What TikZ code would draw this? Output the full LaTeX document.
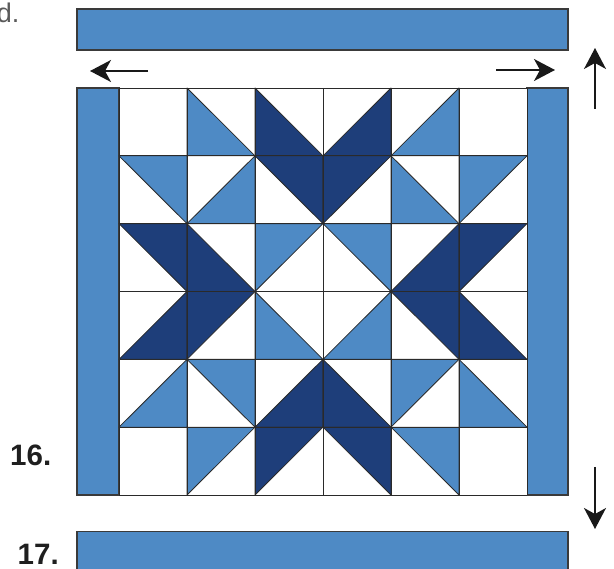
\documentclass[tikz,border=0pt]{standalone}
\usepackage{fontspec}
\setmainfont{Liberation Sans}
\usetikzlibrary{arrows.meta}
\definecolor{lightq}{HTML}{4E8AC5}
\definecolor{darkq}{HTML}{1E3E7A}
\definecolor{linec}{HTML}{2A2A2A}
\definecolor{barline}{HTML}{3A3A3A}
\definecolor{graytext}{HTML}{5A5A5A}
\newcommand\triLL[3]{\filldraw[tri, fill=#3] (#1,#2) -- (#1,#2+1) -- (#1+1,#2+1) -- cycle;}
\newcommand\triLR[3]{\filldraw[tri, fill=#3] (#1+1,#2) -- (#1+1,#2+1) -- (#1,#2+1) -- cycle;}
\newcommand\triUR[3]{\filldraw[tri, fill=#3] (#1,#2) -- (#1+1,#2) -- (#1+1,#2+1) -- cycle;}
\newcommand\triUL[3]{\filldraw[tri, fill=#3] (#1,#2) -- (#1+1,#2) -- (#1,#2+1) -- cycle;}
\tikzset{
  bar/.style={fill=lightq, draw=barline, line width=1.2pt},
  tri/.style={draw=linec, line width=0.8pt, line join=round},
  gridline/.style={draw=linec, line width=0.9pt},
  movearrow/.style={draw=black!90, line width=1.6pt, -{Stealth[length=21pt, width=22pt, inset=6pt]}},
  steplabel/.style={font=\fontsize{29.5}{31}\selectfont\bfseries, text=black!88, inner sep=0pt},
}
\begin{document}
\begin{tikzpicture}[x=1pt, y=-1pt]
\useasboundingbox (0,0) rectangle (614,569);
% text
\node[font=\fontsize{27}{30}\selectfont, text=graytext, inner sep=0pt, anchor=base east] (prev) at (19.5,23) {d.};
\node[steplabel, anchor=base west] (s16) at (10,465.5) {16.};
\node[steplabel, anchor=base west] (s17) at (17.5,565) {17.};
% bars
\draw[bar] (77,9) rectangle (568,50);
\draw[bar] (77,88) rectangle (119,495);
\draw[bar] (527,88) rectangle (568,495);
\draw[bar] (77,531.5) rectangle (568,590);
% quilt block
\begin{scope}[shift={(119,88)}, x=68pt, y=-67.833pt]
  \fill[white] (0,0) rectangle (6,6);
  \foreach \r/\c/\t/\k in {
    0/1/LL/lightq, 0/2/LL/darkq, 0/3/LR/darkq, 0/4/LR/lightq,
    1/0/UR/lightq, 1/1/LR/lightq, 1/2/UR/darkq, 1/3/UL/darkq, 1/4/LL/lightq, 1/5/UL/lightq,
    2/0/UR/darkq, 2/1/LL/darkq, 2/2/UL/lightq, 2/3/UR/lightq, 2/4/LR/darkq, 2/5/UL/darkq,
    3/0/LR/darkq, 3/1/UL/darkq, 3/2/LL/lightq, 3/3/LR/lightq, 3/4/UR/darkq, 3/5/LL/darkq,
    4/0/LR/lightq, 4/1/UR/lightq, 4/2/LR/darkq, 4/3/LL/darkq, 4/4/UL/lightq, 4/5/LL/lightq,
    5/1/UL/lightq, 5/2/UL/darkq, 5/3/UR/darkq, 5/4/UR/lightq}
  {\csname tri\t\endcsname{\c}{\r}{\k}}
  \foreach \i in {0,...,6} {
    \draw[gridline] (\i,0) -- (\i,6);
    \draw[gridline] (0,\i) -- (6,\i);
  }
\end{scope}
% arrows
\coordinate (la0) at (148,71); \coordinate (la1) at (90,71);
\coordinate (ra0) at (496,70); \coordinate (ra1) at (555,70);
\coordinate (ua0) at (595,109); \coordinate (ua1) at (595,48);
\coordinate (da0) at (595,467); \coordinate (da1) at (595,529);
\draw[movearrow] (la0) -- (la1);
\draw[movearrow] (ra0) -- (ra1);
\draw[movearrow] (ua0) -- (ua1);
\draw[movearrow] (da0) -- (da1);
\end{tikzpicture}
\end{document}
